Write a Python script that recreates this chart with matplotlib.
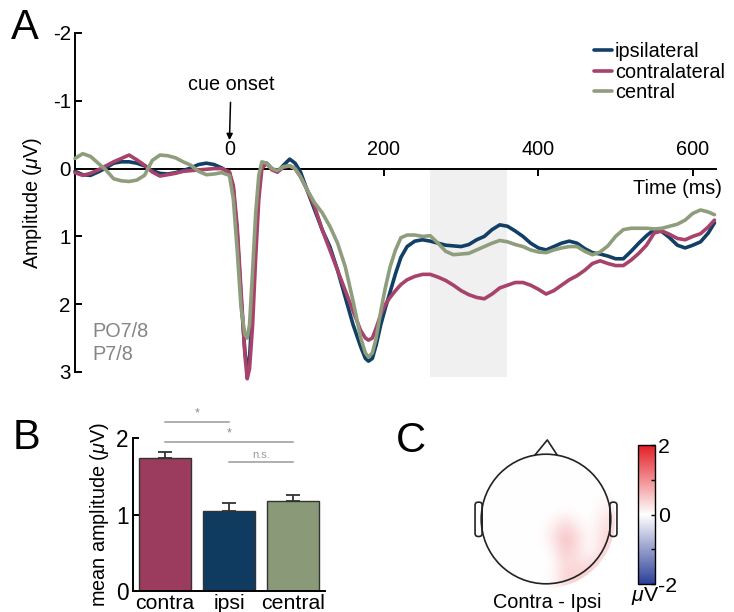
import numpy as np
import matplotlib
matplotlib.use("Agg")
import matplotlib.pyplot as plt
from matplotlib.colors import LinearSegmentedColormap
from matplotlib.patches import Circle, Polygon, FancyBboxPatch, Rectangle

plt.rcParams['font.family'] = ['Liberation Sans', 'DejaVu Sans']
plt.rcParams['mathtext.fontset'] = 'custom'
plt.rcParams['mathtext.rm'] = 'Liberation Sans'
plt.rcParams['mathtext.it'] = 'Liberation Sans:italic'
plt.rcParams['axes.unicode_minus'] = False

# ---------------- data: panel A (ERP waveforms) ----------------
time_ms = [-200, -190, -180, -170, -160, -150, -140, -130, -120, -110, -100, -90, -80, -70,
           -60, -50, -40, -30, -20, -10, 0, 5, 10, 15, 20, 23, 26, 30, 34, 38, 42, 48,
           55, 62, 70, 78, 85, 92, 100, 110, 120, 130, 140, 150, 160, 170, 176, 180, 185,
           190, 196, 202, 208, 215, 222, 230, 240, 250, 260, 270, 280, 290, 300, 310, 320,
           330, 340, 350, 360, 370, 380, 390, 400, 410, 420, 430, 440, 450, 460, 470, 480,
           490, 500, 510, 520, 530, 540, 550, 560, 570, 580, 590, 600, 610, 620, 628]
ipsilateral = [0.04, 0.09, 0.10, 0.05, -0.01, -0.08, -0.10, -0.10, -0.08, -0.04, 0.03, 0.07,
               0.08, 0.06, 0.03, -0.01, -0.06, -0.08, -0.06, -0.01, 0.06, 0.30, 0.95, 1.90,
               2.70, 2.95, 2.80, 2.00, 1.00, 0.30, -0.05, -0.08, 0.00, 0.05, -0.05, -0.14,
               -0.08, 0.05, 0.30, 0.60, 0.90, 1.15, 1.50, 1.90, 2.30, 2.63, 2.80, 2.84, 2.80,
               2.60, 2.30, 2.05, 1.82, 1.55, 1.31, 1.15, 1.07, 1.05, 1.07, 1.10, 1.13, 1.14,
               1.15, 1.12, 1.05, 1.00, 0.90, 0.83, 0.85, 0.92, 1.00, 1.10, 1.17, 1.20, 1.15,
               1.10, 1.07, 1.10, 1.18, 1.24, 1.26, 1.29, 1.33, 1.33, 1.22, 1.10, 0.99, 0.90,
               0.93, 1.02, 1.13, 1.17, 1.13, 1.08, 0.95, 0.80]
contralateral = [0.06, 0.10, 0.07, 0.02, -0.04, -0.10, -0.15, -0.20, -0.13, -0.05, 0.05, 0.11,
                 0.09, 0.07, 0.04, 0.03, 0.02, 0.01, 0.00, 0.00, 0.05, 0.25, 0.85, 1.80,
                 2.75, 3.10, 2.95, 2.30, 1.30, 0.45, 0.00, -0.08, 0.02, 0.05, -0.02, -0.04,
                 0.00, 0.12, 0.30, 0.55, 0.90, 1.20, 1.50, 1.80, 2.10, 2.39, 2.50, 2.53, 2.50,
                 2.35, 2.15, 2.00, 1.90, 1.80, 1.71, 1.64, 1.59, 1.56, 1.56, 1.60, 1.65, 1.72,
                 1.80, 1.86, 1.90, 1.92, 1.85, 1.76, 1.72, 1.68, 1.68, 1.72, 1.78, 1.85, 1.80,
                 1.72, 1.64, 1.58, 1.50, 1.40, 1.36, 1.40, 1.43, 1.43, 1.35, 1.25, 1.13, 0.95,
                 0.92, 0.97, 1.03, 1.05, 1.00, 0.96, 0.86, 0.76]
central = [-0.15, -0.22, -0.18, -0.08, 0.02, 0.15, 0.18, 0.19, 0.17, 0.10, -0.12, -0.20,
           -0.19, -0.16, -0.10, -0.05, 0.04, 0.09, 0.08, 0.06, 0.10, 0.45, 1.20, 2.05,
           2.45, 2.50, 2.30, 1.50, 0.65, 0.10, -0.10, -0.08, 0.00, 0.03, -0.03, -0.04,
           0.00, 0.12, 0.30, 0.50, 0.65, 0.85, 1.10, 1.45, 1.95, 2.50, 2.72, 2.78, 2.72,
           2.50, 2.10, 1.75, 1.45, 1.20, 1.02, 0.98, 0.98, 1.00, 0.99, 1.10, 1.22, 1.27,
           1.26, 1.25, 1.20, 1.15, 1.10, 1.06, 1.08, 1.12, 1.15, 1.20, 1.23, 1.24, 1.20,
           1.17, 1.15, 1.15, 1.22, 1.27, 1.23, 1.14, 1.00, 0.90, 0.88, 0.88, 0.88, 0.89,
           0.88, 0.85, 0.82, 0.76, 0.66, 0.61, 0.64, 0.68]
series_names = ['ipsilateral', 'contralateral', 'central']
window_ms = [260, 360]
a_xticks = [0, 200, 400, 600]
a_yticks = [-2, -1, 0, 1, 2, 3]

# ---------------- data: panel B (bars) ----------------
bar_labels = ['contra', 'ipsi', 'central']
bar_means = [1.74, 1.05, 1.18]
bar_sem = [0.08, 0.10, 0.07]
sig_pairs = [(1, 2), (1, 3), (2, 3)]
sig_levels = [2.21, 1.95, 1.68]
sig_texts = ['*', '*', 'n.s.']

# ---------------- data: panel C (topography grid, head radius = 1) ----------------
topo_coords = [-1.1, -0.9, -0.7, -0.5, -0.3, -0.1, 0.1, 0.3, 0.5, 0.7, 0.9, 1.1]
topo_values = [  # rows from top (y=1.1) to bottom (y=-1.1)
    [0, 0, 0, 0, 0, 0, 0, 0, 0, 0, 0, 0],
    [0, 0, 0, 0, 0, 0, 0, 0, 0, 0, 0, 0],
    [0, 0, 0, 0, 0, 0, 0, 0, 0, 0, 0, 0],
    [0, 0, 0, 0, 0, 0, 0, 0, 0, 0, 0, 0],
    [0, 0, 0, 0, 0, 0, 0, 0, 0, 0, 0.05, 0.10],
    [0, 0, 0, 0, 0, 0, 0, 0.05, 0, 0, 0.15, 0.20],
    [0, 0, 0, 0, 0, 0, 0.10, 0.40, 0.10, 0, 0.30, 0.30],
    [0, 0, 0, 0, 0, 0, 0.20, 0.60, 0.30, 0, 0.35, 0.35],
    [0, 0, 0, 0, 0, 0, 0.05, 0.50, 0.20, 0, 0.40, 0.35],
    [0, 0, 0, 0, 0, 0, 0, 0.35, 0.25, 0.35, 0.45, 0.20],
    [0, 0, 0, 0, 0, 0, 0.05, 0.40, 0.50, 0.45, 0.25, 0],
    [0, 0, 0, 0, 0, 0, 0, 0.25, 0.30, 0.15, 0, 0],
]
cbar_ticks = [-2, -1, 0, 1, 2]
cbar_ticklabels = ['-2', '', '0', '', '2']

# ---------------- styling ----------------
col_ipsi = '#123f66'
col_contra = '#a8426a'
col_central = '#8e9e7c'
bar_cols = ['#9b3c5f', '#0f3b60', '#8a9a78']
FS = 14.3

W, H = 734, 612
fig = plt.figure(figsize=(W / 100, H / 100), dpi=100)


def px_axes(l, t, r, b):
    return fig.add_axes([l / W, 1 - b / H, (r - l) / W, (b - t) / H])


# ================= Panel A =================
ax = px_axes(75, 33, 716, 372)
ax.set_xlim(-200, 630)
ax.set_ylim(3, -2)
ax.add_patch(Rectangle((window_ms[0], 0), window_ms[1] - window_ms[0], 3.08,
                       facecolor='#f0f0f0', edgecolor='none', zorder=0, clip_on=False))
for vals, c, name in [(ipsilateral, col_ipsi, series_names[0]),
                      (contralateral, col_contra, series_names[1]),
                      (central, col_central, series_names[2])]:
    ax.plot(time_ms, vals, color=c, lw=2.6, label=name, zorder=3, clip_on=False,
            solid_capstyle='round', solid_joinstyle='round')

ax.spines['right'].set_visible(False)
ax.spines['bottom'].set_position(('data', 0))
ax.spines['top'].set_position(('data', 0))
ax.spines['top'].set_visible(False)
for s in ['left', 'bottom']:
    ax.spines[s].set_linewidth(1.4)
ax.spines['bottom'].set_zorder(2)
ax.set_xticks(a_xticks)
ax.set_xticklabels([str(v) for v in a_xticks])
ax.set_yticks(a_yticks)
ax.tick_params(axis='x', bottom=True, top=False, labelbottom=False, labeltop=True,
               direction='out', length=5, width=1.4, labelsize=FS, pad=2)
ax.tick_params(axis='y', direction='in', length=5, width=1.4, labelsize=FS + 0.5, pad=3)
ax.set_ylabel('Amplitude ($\\mu$V)', fontsize=FS, labelpad=6)
ax.text(1.009, 0.29, 'Time (ms)', transform=ax.get_yaxis_transform(), ha='right',
        va='center', fontsize=FS)
ax.annotate('cue onset', xy=(0, -0.42), xytext=(2, -1.1), ha='center', va='bottom',
            fontsize=FS, arrowprops=dict(arrowstyle='-|>', color='black', lw=1.1,
                                         mutation_scale=9, shrinkA=4, shrinkB=0))
ax.text(-177, 2.4, 'PO7/8', color='#858585', fontsize=FS, ha='left', va='center')
ax.text(-177, 2.74, 'P7/8', color='#858585', fontsize=FS, ha='left', va='center')
leg = ax.legend(loc='upper right', bbox_to_anchor=(733 / W, 1 - 34 / H),
                bbox_transform=fig.transFigure, frameon=False, fontsize=FS,
                handlelength=0.9, handletextpad=0.15, labelspacing=0.08, borderaxespad=0)
for ln in leg.get_lines():
    ln.set_linewidth(2.6)

# ================= Panel B =================
bx = px_axes(133, 438, 325, 591)
xpos = np.arange(1, len(bar_means) + 1)
bx.bar(xpos, bar_means, width=0.8, color=bar_cols, edgecolor='#333333', linewidth=1.0,
       yerr=[np.zeros(len(bar_sem)), bar_sem],
       error_kw=dict(ecolor='#333333', elinewidth=1.3, capsize=5, capthick=1.3), zorder=2)
bx.set_xlim(0.5, 3.5)
bx.set_ylim(0, 2)
bx.set_yticks([0, 1, 2])
bx.set_xticks(xpos)
bx.set_xticklabels(bar_labels)
for s in ['top', 'right']:
    bx.spines[s].set_visible(False)
for s in ['left', 'bottom']:
    bx.spines[s].set_linewidth(1.4)
bx.tick_params(axis='x', length=0, labelsize=FS + 1, pad=2)
bx.tick_params(axis='y', direction='in', length=4, width=1.4, labelsize=FS + 2, pad=3)
bx.set_ylabel('mean amplitude ($\\mu$V)', fontsize=FS, labelpad=4)
for (a, b), lvl, txt in zip(sig_pairs, sig_levels, sig_texts):
    bx.plot([a, b], [lvl, lvl], color='#9a9a9a', lw=1.1, clip_on=False)
    if txt == '*':
        bx.text((a + b) / 2, lvl + 0.03, txt, ha='center', va='bottom', fontsize=9,
                color='#8a8a8a')
    else:
        bx.text((a + b) / 2, lvl + 0.03, txt, ha='center', va='bottom', fontsize=8,
                color='#9a9a9a')

# ================= Panel C =================
cx = px_axes(465, 434, 627, 604)
cx.set_xlim(-1.25, 1.25)
cx.set_ylim(-1.308, 1.308)
cx.axis('off')
cmap = LinearSegmentedColormap.from_list('bwr_soft', ['#2c3f99', '#ffffff', '#e31e25'])
ext = [topo_coords[0] - 0.1, topo_coords[-1] + 0.1, topo_coords[0] - 0.1, topo_coords[-1] + 0.1]
im = cx.imshow(np.array(topo_values), extent=ext, origin='upper', cmap=cmap, vmin=-2, vmax=2,
               interpolation='bicubic', zorder=1)
clip = Circle((0, 0), 1.07, transform=cx.transData)
im.set_clip_path(clip)
cx.add_patch(Circle((0, 0), 1.0, fill=False, edgecolor='#222222', lw=1.2, zorder=3))
cx.add_patch(Polygon([[-0.18, 0.975], [0.02, 1.22], [0.18, 0.975]], closed=False, fill=False,
                     edgecolor='#222222', lw=1.2, zorder=3, joinstyle='round'))
for sx in (-1, 1):
    cx.add_patch(FancyBboxPatch((sx * 1.04 - 0.055, -0.27), 0.11, 0.53,
                                boxstyle='round,pad=0,rounding_size=0.05', fill=False,
                                edgecolor='#222222', lw=1.2, zorder=2))
fig.text(547 / W, 1 - 602 / H, 'Contra - Ipsi', ha='center', va='center', fontsize=FS)

cb_ax = px_axes(638, 445, 655, 584)
cb = fig.colorbar(im, cax=cb_ax, ticks=cbar_ticks)
cb.set_ticklabels(cbar_ticklabels)
cb.outline.set_linewidth(1.0)
cb_ax.tick_params(direction='in', length=3, width=1, labelsize=FS + 1, pad=2)
fig.text(645 / W, 1 - 596 / H, '$\\mu$V', ha='center', va='center', fontsize=FS + 1)

# panel letters
fig.text(11 / W, 1 - 8 / H, 'A', fontsize=30, ha='left', va='top')
fig.text(13 / W, 1 - 418 / H, 'B', fontsize=30, ha='left', va='top')
fig.text(396 / W, 1 - 421 / H, 'C', fontsize=30, ha='left', va='top')

fig.savefig('out.png', dpi=100)
